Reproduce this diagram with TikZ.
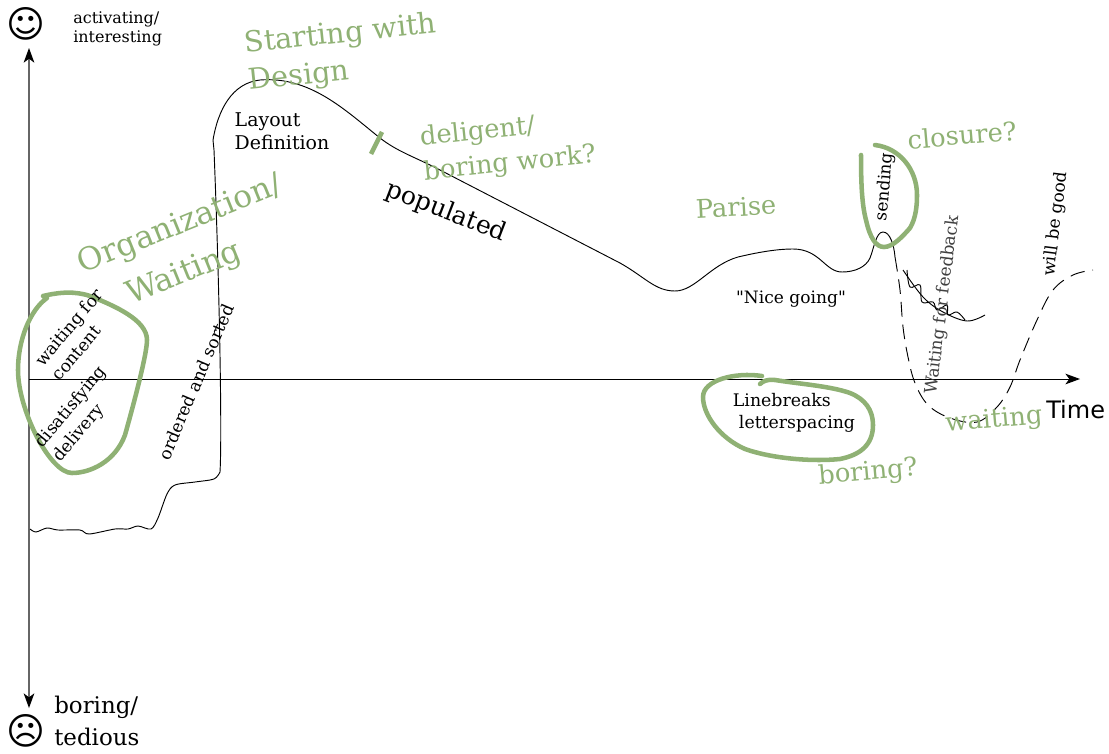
\documentclass[tikz,border=0pt]{standalone}
\usepackage{fontspec}
\setmainfont{DejaVu Serif}[Ligatures=TeXOff]
\setsansfont{DejaVu Sans}
\usetikzlibrary{arrows.meta}
\definecolor{sage}{HTML}{8FB174}
\begin{document}
\begin{tikzpicture}[x=0.75pt,y=-0.75pt,>={Stealth[length=11pt,width=8pt,inset=3pt,black]}]
\tikzstyle {curve}=[draw=black, line width=0.7pt]
\tikzstyle {loopline}=[draw=sage, line width=3.4pt, line cap=round]
\tikzstyle {lbl}=[inner sep=0pt, align=left, font=\fontsize{14.2}{17}\selectfont]
\tikzstyle {note}=[inner sep=0pt, align=center, font=\fontsize{12.8}{15.5}\selectfont]
\tikzstyle {sage1}=[inner sep=0pt, align=left, text=sage, font=\fontsize{19.3}{26}\selectfont]
\tikzstyle {face}=[inner sep=0pt, font=\sffamily\fontsize{28}{28}\selectfont]
\useasboundingbox (0,0) rectangle (1109,753);
% axes
\coordinate (top) at (29,48);
\coordinate (bottom) at (29,708);
\coordinate (origin) at (29,379);
\coordinate (end) at (1080,379);
\draw[->, draw=black!60, line width=0.8pt] (origin) -- (top);
\draw[->, draw=black!60, line width=0.8pt] (origin) -- (bottom);
\draw[->, line width=0.7pt] (origin) -- (end);
\node (happy) at (26,24) [face] {☺};
\node (sad) at (26,731) [face] {☹};
\node (high) [note, anchor=west, align=left, font=\fontsize{12}{14.5}\selectfont] at (73,29) {activating/\\interesting};
\node (low) [inner sep=0pt, align=left, anchor=west, font=\fontsize{17.2}{24}\selectfont] at (54,721) {boring/\\tedious};
\node (time) [anchor=west, inner sep=0pt, font=\sffamily\fontsize{18}{20}\selectfont] at (1046,410) {Time};
% main curve
\draw[curve] plot[smooth, tension=0.5] coordinates {(30,529) (36,532) (47,528) (58,530) (80,530) (89,534) (115,529) (128,529) (138,526) (151,529) (158,518) (167,494) (175,485) (195,482) (214,479) (220,472)};
\draw[curve] (220,472) .. controls (222,440) and (220,300) .. (214,150) -- (213,140)
  .. controls (218,110) and (232,83) .. (260,80) .. controls (310,76) and (345,110) .. (380,138)
  .. controls (398,152) and (415,157) .. (440,170) -- (620,263)
  .. controls (645,277) and (655,291) .. (675,291) .. controls (695,291) and (710,265) .. (738,257)
  .. controls (755,253) and (775,249) .. (793,249) .. controls (820,249) and (825,272) .. (842,272)
  .. controls (855,272) and (866,267) .. (870,258) .. controls (874,248) and (876,232) .. (883,232)
  .. controls (890,232) and (894,245) .. (895,257);
\draw[curve, dash pattern=on 11pt off 6pt] plot[smooth, tension=0.6] coordinates {(895,257) (900,290) (903,327) (908,357) (915,383) (928,405) (950,418) (977,422) (997,407) (1010,387) (1020,360) (1037,320) (1053,290) (1073,275) (1093,270)};
\draw[curve] plot[smooth, tension=0.6] coordinates {(907,270) (910,287) (920,285) (922,302) (933,302) (937,310) (947,305) (948,315) (957,312) (965,320)};
\draw[curve] plot[smooth, tension=0.6] coordinates {(903,270) (923,297) (943,312) (967,321) (985,315)};
% green marks
\draw[loopline] (43,296) .. controls (60,292) and (75,291) .. (90,296) .. controls (115,306) and (147,320) .. (147,340) .. controls (147,355) and (132,410) .. (125,435) .. controls (115,462) and (90,473) .. (72,473) .. controls (50,473) and (18,410) .. (18,370) .. controls (18,340) and (30,310) .. (47,298);
\draw[loopline] (760,384) .. controls (763,381) and (768,379) .. (775,380) .. controls (800,384) and (830,386) .. (850,393) .. controls (865,399) and (873,410) .. (873,425) .. controls (873,445) and (860,455) .. (840,459) .. controls (810,462) and (770,458) .. (745,449) .. controls (720,438) and (703,415) .. (703,397) .. controls (703,380) and (735,372) .. (762,376);
\draw[loopline] (861,155) .. controls (861,185) and (862,205) .. (866,220) .. controls (870,238) and (876,247) .. (884,247) .. controls (893,247) and (903,236) .. (910,228) .. controls (916,218) and (917,205) .. (917,195) .. controls (917,170) and (900,148) .. (875,145);
\draw[loopline, line cap=butt] (382,132) -- (371,154);
% green texts
\node (organization) [sage1, align=center, font=\fontsize{23.5}{35}\selectfont, rotate=22] at (189,247) {Organization/\\Waiting\hspace*{22pt}};
\node (design) [sage1, rotate=6, font=\fontsize{21.5}{28}\selectfont] at (342.5,53.5) {Starting with\\Design};
\node (diligent) [sage1, rotate=6] at (508,147) {deligent/\\boring work?};
\node (praise) [sage1, rotate=3] at (736,207) {Parise};
\node (closure) [sage1, rotate=5] at (962,135) {closure?};
\node (boringq) [sage1, rotate=5] at (868,473) {boring?};
\node (waiting) [sage1, rotate=5] at (994,421) {waiting};
% black texts
\node (layout) [lbl] at (282,131) {Layout\\Definition};
\node (populated) [inner sep=0pt, font=\fontsize{18.8}{20}\selectfont, rotate=-21] at (446,212) {populated};
\node (nice) [note] at (791,299) {"Nice going"};
\node (linebreaks) [lbl, font=\fontsize{13}{16.5}\selectfont] at (794,413) {Linebreaks\\\hspace*{4.5pt}letterspacing};
\node (sending) [note, rotate=85] at (885,187) {sending};
\node (feedback) [note, rotate=83, text=black!75] at (943,305) {Waiting for feedback};
\node (good) [note, rotate=83] at (1056,224) {will be good};
\node (ordered) [note, rotate=67] at (196,382) {ordered and sorted};
\node (content) [note, align=left, font=\fontsize{12.8}{16.5}\selectfont, rotate=50] at (77,334.5) {waiting for\\content};
\node (delivery) [note, align=left, font=\fontsize{12.8}{17}\selectfont, rotate=50] at (80,414.5) {disatisfying\\delivery};
\end{tikzpicture}
\end{document}
